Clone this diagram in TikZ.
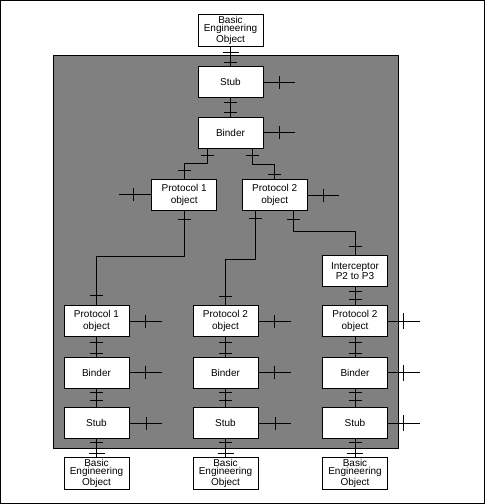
\documentclass[tikz,border=0pt]{standalone}
\usepackage{fontspec}
\setmainfont{Liberation Sans}
\usetikzlibrary{decorations.markings}
\begin{document}
\begin{tikzpicture}[x=1pt,y=-1pt,
  box/.style={draw, fill=white, line width=0.8pt, minimum width=65pt, minimum height=31pt,
    inner sep=0pt, align=center, font=\fontsize{10}{12.5}\selectfont},
  beo/.style={box, minimum height=32pt, font=\fontsize{10}{8.5}\selectfont},
  conn/.style={line width=0.8pt},
  tk/.style={postaction={decorate, decoration={markings,
    mark=at position #1 with {\draw[line width=0.8pt] (0,-6.5pt) -- (0,6.5pt);}}}},
  tkw/.style={postaction={decorate, decoration={markings,
    mark=at position #1 with {\draw[line width=0.8pt] (0,-8pt) -- (0,8pt);}}}}
]
\useasboundingbox (0,0) rectangle (485,504);
\draw[line width=1pt] (0.5,0.5) rectangle (484,503);
\fill[black!50] (53.3,55.7) rectangle (398.3,448.3);
\draw[line width=0.8pt] (53.3,55.7) rectangle (398.3,448.3);

% nodes
\node[beo] (beo0) at (230.5,30.3) {Basic\\Engineering\\Object};
\node[box] (stub0) at (230.5,82.3) {Stub};
\node[box] (bind0) at (230.5,132.8) {Binder};
\node[box] (p1a) at (184.2,194.8) {Protocol 1\\object};
\node[box] (p2a) at (274.7,195) {Protocol 2\\object};
\node[box, font=\fontsize{10}{8.5}\selectfont] (icp) at (355,271.2) {Interceptor\\P2 to P3};

\node[box] (pL) at (96.5,321) {Protocol 1\\object};
\node[box] (bL) at (96.5,372.5) {Binder};
\node[box] (sL) at (96.5,423) {Stub};
\node[beo] (eL) at (96.5,473.2) {Basic\\Engineering\\Object};

\node[box] (pM) at (225.5,321) {Protocol 2\\object};
\node[box] (bM) at (225.5,372.5) {Binder};
\node[box] (sM) at (225.5,423) {Stub};
\node[beo] (eM) at (225.5,473.2) {Basic\\Engineering\\Object};

\node[box] (pR) at (355,321) {Protocol 2\\object};
\node[box] (bR) at (355,372.5) {Binder};
\node[box] (sR) at (355,423) {Stub};
\node[beo] (eR) at (355,473.2) {Basic\\Engineering\\Object};

% connectors top column
\draw[conn, tkw=5.4pt, tk=15.4pt] (beo0.south) -- (stub0.north);
\draw[conn, tk=4.4pt, tk=14.4pt] (stub0.south) -- (bind0.north);
\draw[conn, tk=16pt] (stub0.east) -- ++(32,0);
\draw[conn, tk=16pt] (bind0.east) -- ++(32,0);
\draw[conn, tk=6.7pt, tk=45pt] ([xshift=-23.2pt]bind0.south) -- ++(0,15) -| (p1a.north);
\draw[conn, tk=6.7pt, tk=48pt] ([xshift=21.8pt]bind0.south) -- ++(0,15.7) -| (p2a.north);
\draw[conn, tk=17.5pt] (p1a.west) -- ++(-32.5,0);
\draw[conn, tk=15.7pt] (p2a.east) -- ++(31.5,0);
\draw[conn, tk=9pt, tk=172.4pt] (p1a.south) -- ++(0,45.4) -| (pL.north);
\draw[conn, tk=7pt, tk=114.8pt] ([xshift=-19.7pt]p2a.south) -- ++(0,48.3) -| (pM.north);
\draw[conn, tk=8.6pt, tk=97pt] ([xshift=18.6pt]p2a.south) -- ++(0,20.3) -| (icp.north);
\draw[conn, tk=4.5pt, tk=12pt] (icp.south) -- (pR.north);

% lower columns
\foreach \c in {L,M,R}{
  \draw[conn, tk=5pt, tk=16pt] (p\c.south) -- (b\c.north);
  \draw[conn, tk=3.7pt, tk=12pt] (b\c.south) -- (s\c.north);
  \draw[conn, tk=3.4pt, tkw=14pt] (s\c.south) -- (e\c.north);
}
\foreach \c in {L,M}{
  \draw[conn, tk=16pt] (p\c.east) -- ++(32.5,0);
  \draw[conn, tk=16pt] (b\c.east) -- ++(32.5,0);
  \draw[conn, tk=16.5pt] (s\c.east) -- ++(33,0);
}
\draw[conn, tkw=15.6pt] (pR.east) -- ++(31.6,0);
\draw[conn, tkw=15.6pt] (bR.east) -- ++(31.6,0);
\draw[conn, tkw=15.6pt] (sR.east) -- ++(31.6,0);
\end{tikzpicture}
\end{document}
